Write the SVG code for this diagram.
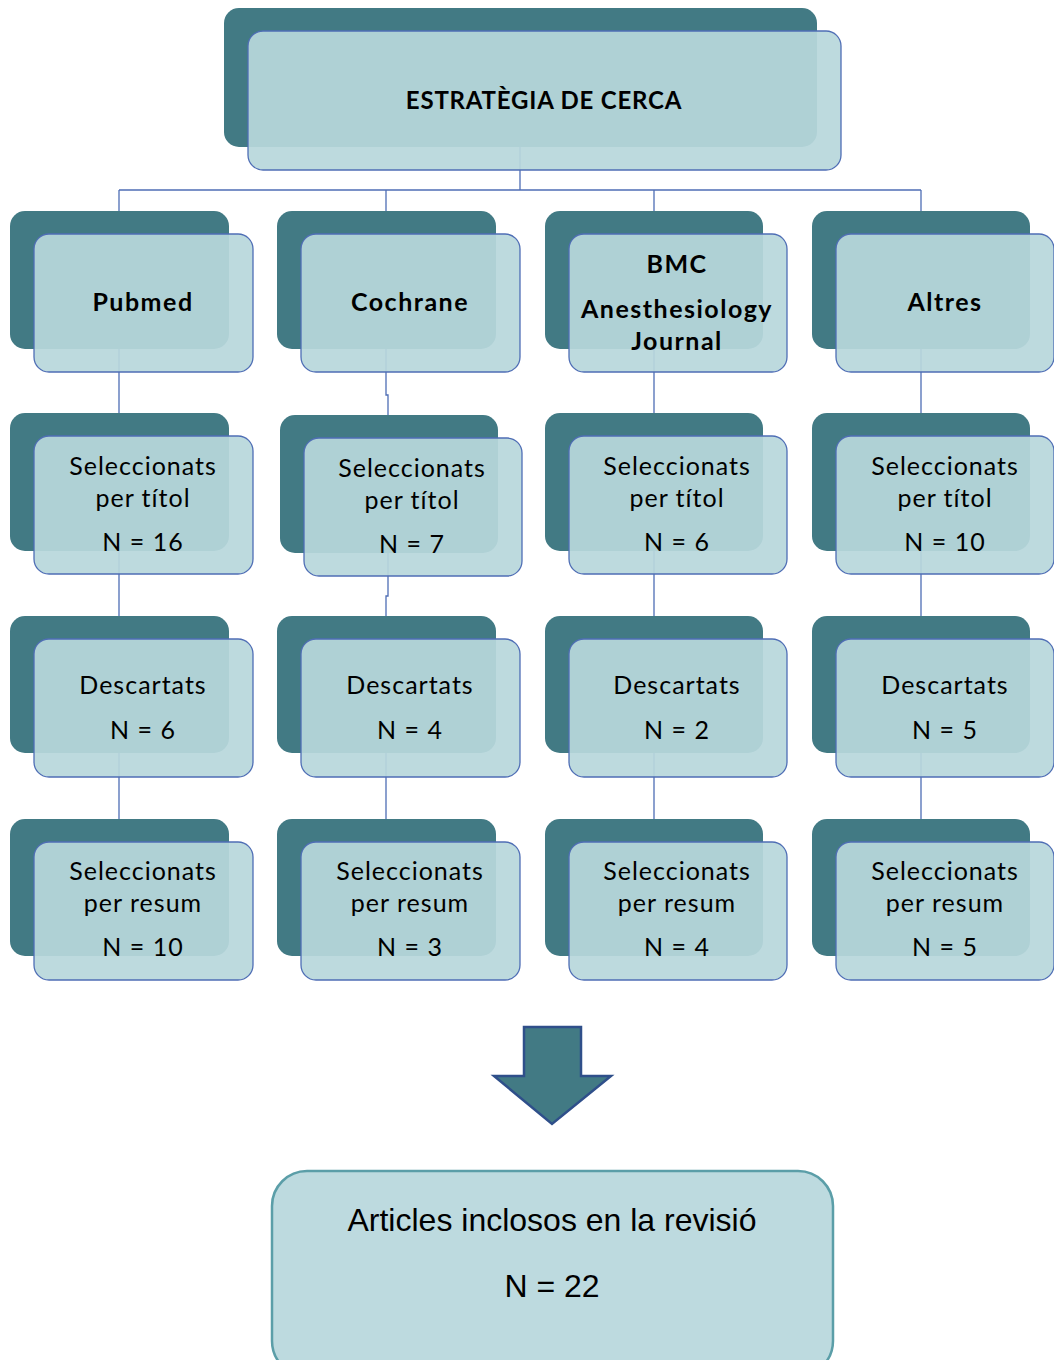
<svg xmlns="http://www.w3.org/2000/svg" width="1054" height="1360" viewBox="0 0 1054 1360">
<style>
.back{fill:#427A84}
.front{fill:#B8D7DC;fill-opacity:0.93;stroke:#4F6EB5;stroke-width:1.3}
.conn{fill:none;stroke:#4F6EB5;stroke-width:1.3}
.t{font-family:Lato,"Open Sans",sans-serif;font-size:25px;letter-spacing:1px;fill:#000;text-anchor:middle}
.b{font-weight:bold;letter-spacing:1.5px}
.h{font-size:24px;letter-spacing:0.8px}
.a{font-family:"Liberation Sans",Arial,sans-serif;font-size:32px;fill:#000;text-anchor:middle}
</style>
<rect width="1054" height="1360" fill="#fff"/>
<g id="connectors">
<path class="conn" d="M520,147 V190 M119,190 H921 M119,190 V211 M386,190 V211 M654,190 V211 M921,190 V211"/>
<path class="conn" d="M119,349 V413 M119,551 V616 M119,753 V819"/>
<path class="conn" d="M386,349 V395 H388 V415 M388,553 V596 H386 V616 M386,753 V819"/>
<path class="conn" d="M654,349 V413 M654,551 V616 M654,753 V819"/>
<path class="conn" d="M921,349 V413 M921,551 V616 M921,753 V819"/>
</g>
<g id="n-top">
<rect class="back" x="224" y="8" width="593" height="139" rx="15"/>
<rect class="front" x="248" y="31" width="593" height="139" rx="15"/>
<text class="t b h" x="544" y="109">ESTRATÈGIA DE CERCA</text>
</g>
<g id="n-pubmed">
<rect class="back" x="10" y="211" width="219" height="138" rx="15"/>
<rect class="front" x="34" y="234" width="219" height="138" rx="15"/>
<text class="t b" x="143" y="311">Pubmed</text>
</g>
<g id="n-cochrane">
<rect class="back" x="277" y="211" width="219" height="138" rx="15"/>
<rect class="front" x="301" y="234" width="219" height="138" rx="15"/>
<text class="t b" x="410" y="311">Cochrane</text>
</g>
<g id="n-bmc">
<rect class="back" x="545" y="211" width="218" height="138" rx="15"/>
<rect class="front" x="569" y="234" width="218" height="138" rx="15"/>
<text class="t b" x="677" y="273">BMC</text>
<text class="t b" x="677" y="318">Anesthesiology</text>
<text class="t b" x="677" y="350">Journal</text>
</g>
<g id="n-altres">
<rect class="back" x="812" y="211" width="218" height="138" rx="15"/>
<rect class="front" x="836" y="234" width="218" height="138" rx="15"/>
<text class="t b" x="945" y="311">Altres</text>
</g>
<g id="n-titol-1">
<rect class="back" x="10" y="413" width="219" height="138" rx="15"/>
<rect class="front" x="34" y="436" width="219" height="138" rx="15"/>
<text class="t" x="143" y="475">Seleccionats</text>
<text class="t" x="143" y="507">per títol</text>
<text class="t" x="143" y="551">N = 16</text>
</g>
<g id="n-titol-2">
<rect class="back" x="280" y="415" width="218" height="138" rx="15"/>
<rect class="front" x="304" y="438" width="218" height="138" rx="15"/>
<text class="t" x="412" y="477">Seleccionats</text>
<text class="t" x="412" y="509">per títol</text>
<text class="t" x="412" y="553">N = 7</text>
</g>
<g id="n-titol-3">
<rect class="back" x="545" y="413" width="218" height="138" rx="15"/>
<rect class="front" x="569" y="436" width="218" height="138" rx="15"/>
<text class="t" x="677" y="475">Seleccionats</text>
<text class="t" x="677" y="507">per títol</text>
<text class="t" x="677" y="551">N = 6</text>
</g>
<g id="n-titol-4">
<rect class="back" x="812" y="413" width="218" height="138" rx="15"/>
<rect class="front" x="836" y="436" width="218" height="138" rx="15"/>
<text class="t" x="945" y="475">Seleccionats</text>
<text class="t" x="945" y="507">per títol</text>
<text class="t" x="945" y="551">N = 10</text>
</g>
<g id="n-desc-1">
<rect class="back" x="10" y="616" width="219" height="137" rx="15"/>
<rect class="front" x="34" y="639" width="219" height="138" rx="15"/>
<text class="t" x="143" y="694">Descartats</text>
<text class="t" x="143" y="739">N = 6</text>
</g>
<g id="n-desc-2">
<rect class="back" x="277" y="616" width="219" height="137" rx="15"/>
<rect class="front" x="301" y="639" width="219" height="138" rx="15"/>
<text class="t" x="410" y="694">Descartats</text>
<text class="t" x="410" y="739">N = 4</text>
</g>
<g id="n-desc-3">
<rect class="back" x="545" y="616" width="218" height="137" rx="15"/>
<rect class="front" x="569" y="639" width="218" height="138" rx="15"/>
<text class="t" x="677" y="694">Descartats</text>
<text class="t" x="677" y="739">N = 2</text>
</g>
<g id="n-desc-4">
<rect class="back" x="812" y="616" width="218" height="137" rx="15"/>
<rect class="front" x="836" y="639" width="218" height="138" rx="15"/>
<text class="t" x="945" y="694">Descartats</text>
<text class="t" x="945" y="739">N = 5</text>
</g>
<g id="n-resum-1">
<rect class="back" x="10" y="819" width="219" height="137" rx="15"/>
<rect class="front" x="34" y="842" width="219" height="138" rx="15"/>
<text class="t" x="143" y="880">Seleccionats</text>
<text class="t" x="143" y="912">per resum</text>
<text class="t" x="143" y="956">N = 10</text>
</g>
<g id="n-resum-2">
<rect class="back" x="277" y="819" width="219" height="137" rx="15"/>
<rect class="front" x="301" y="842" width="219" height="138" rx="15"/>
<text class="t" x="410" y="880">Seleccionats</text>
<text class="t" x="410" y="912">per resum</text>
<text class="t" x="410" y="956">N = 3</text>
</g>
<g id="n-resum-3">
<rect class="back" x="545" y="819" width="218" height="137" rx="15"/>
<rect class="front" x="569" y="842" width="218" height="138" rx="15"/>
<text class="t" x="677" y="880">Seleccionats</text>
<text class="t" x="677" y="912">per resum</text>
<text class="t" x="677" y="956">N = 4</text>
</g>
<g id="n-resum-4">
<rect class="back" x="812" y="819" width="218" height="137" rx="15"/>
<rect class="front" x="836" y="842" width="218" height="138" rx="15"/>
<text class="t" x="945" y="880">Seleccionats</text>
<text class="t" x="945" y="912">per resum</text>
<text class="t" x="945" y="956">N = 5</text>
</g>
<g id="arrow">
<polygon points="524,1027 581,1027 581,1076 611,1076 552,1124 494,1076 524,1076" fill="#427A84" stroke="#2F4F8A" stroke-width="2.5" stroke-linejoin="miter"/>
</g>
<g id="n-result">
<rect x="272" y="1171" width="561" height="205" rx="35" fill="#BDDADF" stroke="#5B9EA8" stroke-width="2.5"/>
<text class="a" x="552" y="1231">Articles inclosos en la revisió</text>
<text class="a" x="552" y="1297">N = 22</text>
</g>
</svg>
